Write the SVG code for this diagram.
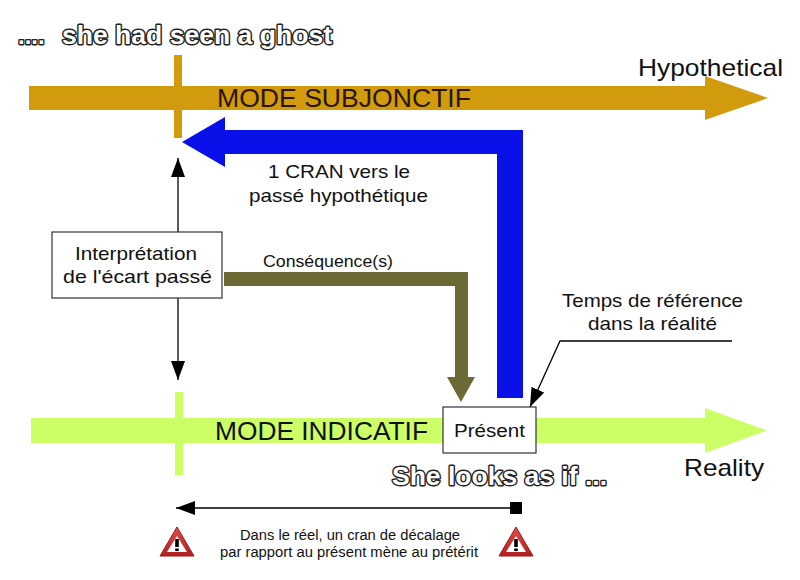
<svg xmlns="http://www.w3.org/2000/svg" width="800" height="580" viewBox="0 0 800 580">
<defs>
<style>
text{font-family:"Liberation Sans",Arial,sans-serif;fill:#111;}
.mode{font-size:26px;}
.lbl{font-size:19px;}
.small{font-size:14px;}
.outl{font-weight:bold;fill:#fff;stroke:#222;stroke-width:2.8px;paint-order:stroke fill;stroke-linejoin:round;}
.box{fill:#fff;stroke:#333;stroke-width:1.2;}
.thin{stroke:#000;stroke-width:1.3;fill:none;}
</style>
<marker id="ahBig" viewBox="0 0 10 10" refX="10" refY="5" markerWidth="19" markerHeight="14" markerUnits="userSpaceOnUse" orient="auto" preserveAspectRatio="none">
<path d="M0,0 L10,5 L0,10 z" fill="#000"/>
</marker>
<linearGradient id="warnG" x1="0" y1="0" x2="0" y2="1">
<stop offset="0" stop-color="#e0504a"/>
<stop offset="1" stop-color="#b01e1e"/>
</linearGradient>
<g id="warn">
<path d="M0,-16 L17,13 L-17,13 z" fill="url(#warnG)" stroke="#a01818" stroke-width="1" stroke-linejoin="round"/>
<path d="M0,-7 L10,9 L-10,9 z" fill="#fff"/>
<rect x="-1.8" y="-4" width="3.6" height="8" fill="#000"/>
<rect x="-1.8" y="5.5" width="3.6" height="2.6" fill="#000"/>
</g>
</defs>
<rect width="800" height="580" fill="#fff"/>

<g id="subjonctif-axis">
<rect x="174" y="55" width="8" height="83" fill="#d19b0d"/>
<polygon points="29,86 705,86 705,76 768,98 705,120 705,110 29,110" fill="#d19b0d"/>
<text class="mode" x="217" y="107" textLength="254" lengthAdjust="spacingAndGlyphs" style="fill:#2a1500">MODE SUBJONCTIF</text>
<text x="638" y="76" style="font-size:24px" textLength="145" lengthAdjust="spacingAndGlyphs">Hypothetical</text>
</g>

<g id="indicatif-axis">
<rect x="175" y="392" width="8" height="83" fill="#ccff66"/>
<polygon points="31,418 705,418 705,408 767,430.5 705,453 705,443 31,443" fill="#ccff66"/>
<text class="mode" x="215" y="440" textLength="213" lengthAdjust="spacingAndGlyphs">MODE INDICATIF</text>
<text x="684" y="476" style="font-size:24px" textLength="80" lengthAdjust="spacingAndGlyphs">Reality</text>
</g>

<g id="title-top">
<text class="outl" x="18" y="44" style="font-size:24px">....</text>
<text class="outl" x="62" y="44" style="font-size:25px" textLength="270" lengthAdjust="spacingAndGlyphs">she had seen a ghost</text>
</g>

<g id="title-bottom">
<text class="outl" x="392" y="485" style="font-size:26px" textLength="215" lengthAdjust="spacingAndGlyphs">She looks as if ...</text>
</g>

<g id="connectors">
<path id="blue-arrow" d="M182,142 L225,117 L225,130 L523,130 L523,398 L497,398 L497,154 L225,154 L225,167 z" fill="#0a10e8"/>
<path id="olive-arrow" d="M224,272 L468,272 L468,377 L475,377 L461,402 L447,377 L455,377 L455,286 L224,286 z" fill="#6b6a36"/>
<line class="thin" x1="178" y1="232" x2="178" y2="158" marker-end="url(#ahBig)"/>
<line class="thin" x1="178" y1="298" x2="178" y2="380" marker-end="url(#ahBig)"/>
<polyline class="thin" points="732,341 560,341 530,407" marker-end="url(#ahBig)"/>
<line class="thin" x1="516" y1="508" x2="176" y2="508" marker-end="url(#ahBig)"/>
<rect x="510" y="502" width="12" height="12" fill="#000"/>
</g>

<g id="cran-label">
<text class="lbl" x="268" y="178" textLength="142" lengthAdjust="spacingAndGlyphs">1 CRAN vers le</text>
<text class="lbl" x="249" y="202" textLength="179" lengthAdjust="spacingAndGlyphs">passé hypothétique</text>
</g>

<g id="interpretation">
<rect class="box" x="52" y="232" width="170" height="66"/>
<text class="lbl" x="75" y="260" textLength="122" lengthAdjust="spacingAndGlyphs">Interprétation</text>
<text class="lbl" x="63" y="283" textLength="149" lengthAdjust="spacingAndGlyphs">de l'écart passé</text>
</g>

<g id="consequence-label">
<text x="263" y="267" style="font-size:16px" textLength="130" lengthAdjust="spacingAndGlyphs">Conséquence(s)</text>
</g>

<g id="present">
<rect class="box" x="443" y="407" width="93" height="46"/>
<text x="454" y="437" style="font-size:18px" textLength="71" lengthAdjust="spacingAndGlyphs">Présent</text>
</g>

<g id="reference-label">
<text class="lbl" x="562" y="307" textLength="181" lengthAdjust="spacingAndGlyphs">Temps de référence</text>
<text class="lbl" x="588" y="330" textLength="129" lengthAdjust="spacingAndGlyphs">dans la réalité</text>
</g>

<g id="bottom-note">
<use href="#warn" x="177" y="543"/>
<use href="#warn" x="516" y="543"/>
<text class="small" x="240" y="540" textLength="220" lengthAdjust="spacingAndGlyphs">Dans le réel, un cran de décalage</text>
<text class="small" x="220" y="557" textLength="258" lengthAdjust="spacingAndGlyphs">par rapport au présent mène au prétérit</text>
</g>
</svg>
